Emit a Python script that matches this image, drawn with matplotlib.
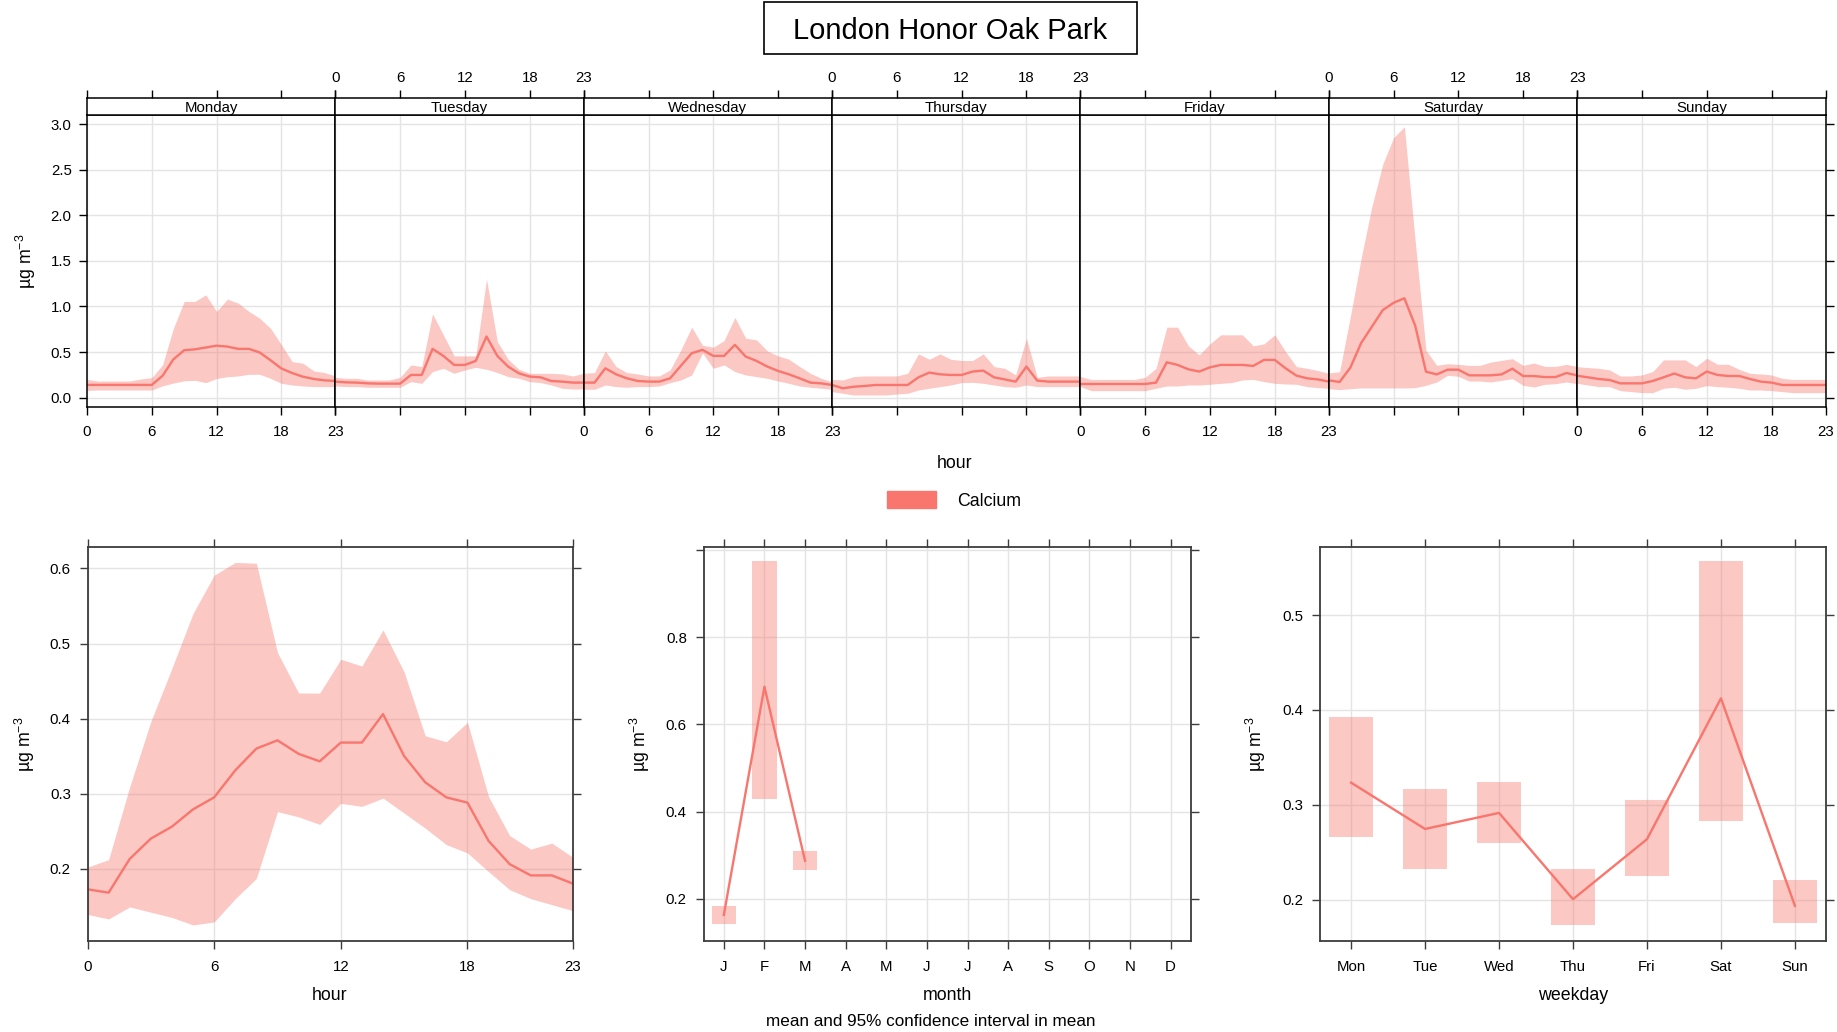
import matplotlib.pyplot as plt
import numpy as np
from matplotlib.patches import Rectangle
from matplotlib.ticker import FormatStrFormatter

plt.rcParams["font.family"] = ["Liberation Sans", "DejaVu Sans"]
plt.rcParams["mathtext.fontset"] = "custom"
plt.rcParams["mathtext.rm"] = "Liberation Sans"

# -- data: hourly Calcium by day of week (mean, 95% CI) -----------------------
days = ["Monday", "Tuesday", "Wednesday", "Thursday", "Friday", "Saturday", "Sunday"]
hour_ticks = [0, 6, 12, 18, 23]

mon_mean = [0.14, 0.14, 0.14, 0.14, 0.14, 0.14, 0.14, 0.24, 0.42, 0.52, 0.53, 0.55,
            0.57, 0.56, 0.535, 0.535, 0.495, 0.41, 0.32, 0.27, 0.23, 0.205, 0.19, 0.183]
mon_lo = [0.08, 0.084, 0.084, 0.084, 0.084, 0.084, 0.084, 0.13, 0.16, 0.185, 0.19, 0.165,
          0.21, 0.23, 0.238, 0.256, 0.256, 0.212, 0.157, 0.139, 0.128, 0.121, 0.121, 0.121]
mon_hi = [0.2, 0.183, 0.183, 0.183, 0.183, 0.205, 0.22, 0.36, 0.76, 1.055, 1.055, 1.128,
          0.945, 1.08, 1.037, 0.945, 0.87, 0.76, 0.58, 0.396, 0.377, 0.293, 0.275, 0.238]

tue_mean = [0.176, 0.168, 0.165, 0.157, 0.154, 0.154, 0.154, 0.249, 0.249, 0.535, 0.458, 0.359,
            0.359, 0.403, 0.67, 0.458, 0.341, 0.267, 0.231, 0.223, 0.183, 0.176, 0.165, 0.165]
tue_lo = [0.128, 0.121, 0.121, 0.114, 0.114, 0.114, 0.114, 0.176, 0.157, 0.286, 0.322, 0.267,
          0.304, 0.333, 0.311, 0.275, 0.231, 0.212, 0.176, 0.165, 0.139, 0.103, 0.095, 0.095]
tue_hi = [0.223, 0.212, 0.212, 0.194, 0.194, 0.194, 0.223, 0.359, 0.341, 0.919, 0.689, 0.458,
          0.458, 0.458, 1.30, 0.615, 0.421, 0.311, 0.267, 0.267, 0.267, 0.26, 0.238, 0.267]

wed_mean = [0.165, 0.165, 0.322, 0.256, 0.212, 0.183, 0.176, 0.176, 0.212, 0.35, 0.487, 0.524,
            0.458, 0.458, 0.579, 0.451, 0.403, 0.341, 0.293, 0.256, 0.212, 0.165, 0.157, 0.139]
wed_lo = [0.092, 0.092, 0.139, 0.121, 0.114, 0.121, 0.121, 0.128, 0.165, 0.194, 0.249, 0.49,
          0.322, 0.359, 0.286, 0.249, 0.231, 0.212, 0.183, 0.157, 0.128, 0.114, 0.103, 0.092]
wed_hi = [0.267, 0.275, 0.513, 0.341, 0.275, 0.26, 0.238, 0.238, 0.304, 0.524, 0.773, 0.575,
          0.553, 0.626, 0.879, 0.652, 0.634, 0.513, 0.458, 0.421, 0.341, 0.267, 0.212, 0.176]

thu_mean = [0.139, 0.103, 0.12, 0.128, 0.139, 0.139, 0.139, 0.139, 0.223, 0.275, 0.256, 0.249,
            0.249, 0.286, 0.297, 0.223, 0.2, 0.176, 0.341, 0.187, 0.176, 0.176, 0.176, 0.176]
thu_lo = [0.066, 0.048, 0.029, 0.029, 0.029, 0.029, 0.04, 0.048, 0.084, 0.103, 0.121, 0.139,
          0.165, 0.168, 0.157, 0.139, 0.121, 0.114, 0.139, 0.121, 0.121, 0.121, 0.121, 0.121]
thu_hi = [0.2, 0.194, 0.231, 0.238, 0.238, 0.238, 0.238, 0.267, 0.48, 0.421, 0.48, 0.421,
          0.407, 0.407, 0.48, 0.341, 0.322, 0.249, 0.652, 0.223, 0.238, 0.238, 0.238, 0.238]

fri_mean = [0.15, 0.15, 0.15, 0.15, 0.15, 0.15, 0.15, 0.165, 0.388, 0.359, 0.311, 0.286,
            0.333, 0.359, 0.359, 0.359, 0.348, 0.414, 0.414, 0.322, 0.242, 0.212, 0.2, 0.176]
fri_lo = [0.121, 0.077, 0.077, 0.077, 0.077, 0.077, 0.077, 0.103, 0.128, 0.128, 0.139, 0.139,
          0.147, 0.157, 0.165, 0.194, 0.2, 0.176, 0.157, 0.15, 0.147, 0.121, 0.11, 0.103]
fri_hi = [0.231, 0.2, 0.2, 0.2, 0.2, 0.2, 0.223, 0.322, 0.773, 0.773, 0.568, 0.469,
          0.59, 0.689, 0.689, 0.689, 0.568, 0.59, 0.689, 0.505, 0.341, 0.322, 0.297, 0.267]

sat_mean = [0.19, 0.172, 0.33, 0.6, 0.78, 0.96, 1.04, 1.09, 0.79, 0.285, 0.255, 0.307,
            0.307, 0.245, 0.245, 0.245, 0.255, 0.318, 0.237, 0.237, 0.226, 0.226, 0.27, 0.245]
sat_lo = [0.099, 0.088, 0.099, 0.106, 0.106, 0.106, 0.106, 0.106, 0.11, 0.135, 0.172, 0.245,
          0.234, 0.182, 0.182, 0.172, 0.19, 0.208, 0.135, 0.117, 0.146, 0.153, 0.172, 0.153]
sat_hi = [0.27, 0.285, 0.89, 1.53, 2.1, 2.56, 2.85, 2.97, 1.72, 0.52, 0.354, 0.372,
          0.365, 0.354, 0.354, 0.39, 0.409, 0.427, 0.354, 0.38, 0.343, 0.343, 0.365, 0.343]

sun_mean = [0.24, 0.223, 0.205, 0.194, 0.157, 0.157, 0.157, 0.183, 0.223, 0.265, 0.223, 0.212,
            0.286, 0.249, 0.238, 0.238, 0.205, 0.176, 0.165, 0.139, 0.139, 0.139, 0.139, 0.139]
sun_lo = [0.157, 0.139, 0.121, 0.121, 0.077, 0.066, 0.055, 0.055, 0.103, 0.114, 0.092, 0.103,
          0.132, 0.121, 0.114, 0.103, 0.084, 0.084, 0.077, 0.066, 0.055, 0.055, 0.055, 0.055]
sun_hi = [0.34, 0.33, 0.322, 0.304, 0.238, 0.238, 0.249, 0.286, 0.414, 0.414, 0.414, 0.341,
          0.432, 0.366, 0.366, 0.311, 0.267, 0.26, 0.249, 0.212, 0.2, 0.2, 0.2, 0.2]

# -- data: diurnal cycle (all days) -------------------------------------------
hour_mean = [0.1725, 0.168, 0.213, 0.240, 0.256, 0.279, 0.295, 0.331, 0.360, 0.371, 0.353, 0.343,
             0.368, 0.368, 0.406, 0.350, 0.315, 0.295, 0.288, 0.237, 0.206, 0.191, 0.191, 0.180]
hour_lo = [0.139, 0.133, 0.149, 0.142, 0.135, 0.125, 0.129, 0.160, 0.187, 0.276, 0.269, 0.259,
           0.287, 0.283, 0.294, 0.274, 0.254, 0.232, 0.221, 0.196, 0.172, 0.160, 0.152, 0.144]
hour_hi = [0.202, 0.212, 0.309, 0.396, 0.467, 0.540, 0.591, 0.608, 0.607, 0.488, 0.434, 0.434,
           0.479, 0.470, 0.518, 0.462, 0.377, 0.369, 0.395, 0.296, 0.244, 0.226, 0.234, 0.215]

# -- data: monthly means (only Jan-Mar available) -----------------------------
month_labels = ["J", "F", "M", "A", "M", "J", "J", "A", "S", "O", "N", "D"]
month_num = [1, 2, 3]
month_mean = [0.163, 0.686, 0.287]
month_lo = [0.142, 0.428, 0.267]
month_hi = [0.184, 0.974, 0.309]

# -- data: weekday means ------------------------------------------------------
wday_labels = ["Mon", "Tue", "Wed", "Thu", "Fri", "Sat", "Sun"]
wday_mean = [0.3235, 0.2747, 0.2916, 0.2007, 0.2639, 0.4123, 0.1937]
wday_lo = [0.2667, 0.2326, 0.2596, 0.1740, 0.2256, 0.2832, 0.1754]
wday_hi = [0.3926, 0.3168, 0.3239, 0.2326, 0.3053, 0.5572, 0.2207]

week_means = [mon_mean, tue_mean, wed_mean, thu_mean, fri_mean, sat_mean, sun_mean]
week_los = [mon_lo, tue_lo, wed_lo, thu_lo, fri_lo, sat_lo, sun_lo]
week_his = [mon_hi, tue_hi, wed_hi, thu_hi, fri_hi, sat_hi, sun_hi]

# -- styling ------------------------------------------------------------------
W, H = 1837, 1032
RED = "#F8766D"
GRID = "#E4E4E4"
FRAME = "#3C3C3C"
UNITS = "\u00b5g m$^{-3}$"
TICK_FS = 10.8
LAB_FS = 12.8


def px_box(left, top, right, bottom):
    return [left / W, 1 - bottom / H, (right - left) / W, (bottom - top) / H]


def px_text(x, y, s, **kw):
    fig.text(x / W, 1 - y / H, s, **kw)


fig = plt.figure(figsize=(W / 100, H / 100), dpi=100)

# -- top: hour x day of week --------------------------------------------------
x_left, x_right = 87.0, 1825.5
dw = (x_right - x_left) / 7
hours = np.arange(24)
for i, day in enumerate(days):
    l, r = x_left + i * dw, x_left + (i + 1) * dw
    ax = fig.add_axes(px_box(l, 115, r, 406.7))
    ax.fill_between(hours, week_los[i], week_his[i], color=RED, alpha=0.4, lw=0)
    ax.plot(hours, week_means[i], color=RED, lw=1.7)
    ax.set_xlim(0, 23)
    ax.set_ylim(-0.099, 3.099)
    ax.set_xticks(hour_ticks)
    ax.set_yticks(np.arange(0, 3.01, 0.5))
    ax.yaxis.set_major_formatter(FormatStrFormatter("%.1f"))
    ax.grid(color=GRID, lw=1)
    ax.set_axisbelow(True)
    ax.tick_params(axis="both", direction="out", length=6, width=1, labelsize=TICK_FS,
                   colors="black")
    ax.tick_params(axis="x", top=False, bottom=True, labelbottom=(i % 2 == 0), pad=7.5)
    ax.tick_params(axis="y", left=(i == 0), labelleft=(i == 0), right=(i == 6),
                   labelright=False, pad=5)
    for sp in ax.spines.values():
        sp.set_color("black")
        sp.set_linewidth(1.1)

    # strip with day name, carries the top tick marks
    st = fig.add_axes(px_box(l, 97.7, r, 115))
    st.set_xlim(0, 23)
    st.set_ylim(0, 1)
    st.set_xticks(hour_ticks)
    st.set_yticks([])
    st.tick_params(axis="x", top=True, bottom=False, labeltop=(i % 2 == 1), labelbottom=False,
                   direction="out", length=6, width=1, labelsize=TICK_FS, pad=3.5)
    st.text(11.5, 0.38, day, ha="center", va="center", fontsize=TICK_FS)
    for sp in st.spines.values():
        sp.set_color("black")
        sp.set_linewidth(1.1)

px_text(26, 261, UNITS, rotation=90, ha="center", va="center", fontsize=LAB_FS)
px_text(955, 464, "hour", ha="center", va="center", fontsize=LAB_FS)

# legend key
fig.add_artist(Rectangle((887 / W, 1 - 508 / H), 49 / W, 17 / H, color=RED,
                         transform=fig.transFigure))
px_text(957, 502, "Calcium", ha="left", va="center", fontsize=LAB_FS)

# title box
fig.add_artist(Rectangle((764 / W, 1 - 54 / H), 373 / W, 52 / H, fill=False,
                         edgecolor="black", lw=1.2, transform=fig.transFigure))
px_text(950, 31, "London Honor Oak Park", ha="center", va="center", fontsize=21)


def style_bottom(ax):
    ax.grid(color=GRID, lw=1)
    ax.set_axisbelow(True)
    ax.tick_params(axis="both", direction="out", length=6, width=1, labelsize=TICK_FS,
                   top=True, right=True, colors=FRAME, labelcolor="black", pad=6)
    ax.tick_params(axis="x", pad=8)
    for sp in ax.spines.values():
        sp.set_color(FRAME)
        sp.set_linewidth(1.3)


# -- bottom left: diurnal ------------------------------------------------------
ax1 = fig.add_axes(px_box(87.5, 546.7, 573, 940.7))
ax1.fill_between(hours, hour_lo, hour_hi, color=RED, alpha=0.4, lw=0)
ax1.plot(hours, hour_mean, color=RED, lw=1.7)
ax1.set_xlim(0, 23)
ax1.set_ylim(0.104, 0.629)
ax1.set_xticks(hour_ticks)
ax1.set_yticks([0.2, 0.3, 0.4, 0.5, 0.6])
style_bottom(ax1)
px_text(25, 744, UNITS, rotation=90, ha="center", va="center", fontsize=LAB_FS)
px_text(330, 996, "hour", ha="center", va="center", fontsize=LAB_FS)

# -- bottom middle: month ------------------------------------------------------
ax2 = fig.add_axes(px_box(703.5, 546.7, 1191, 940.7))
ax2.bar(month_num, np.subtract(month_hi, month_lo), bottom=month_lo, width=0.6,
        color=RED, alpha=0.4, lw=0)
ax2.plot(month_num, month_mean, color=RED, lw=1.7)
ax2.set_xlim(0.5, 12.5)
ax2.set_ylim(0.104, 1.007)
ax2.set_xticks(range(1, 13))
ax2.set_xticklabels(month_labels)
ax2.set_yticks([0.2, 0.4, 0.6, 0.8, 1.0])
ax2.set_yticklabels(["0.2", "0.4", "0.6", "0.8", ""])
style_bottom(ax2)
px_text(640, 744, UNITS, rotation=90, ha="center", va="center", fontsize=LAB_FS)
px_text(947, 996, "month", ha="center", va="center", fontsize=LAB_FS)
px_text(931, 1021, "mean and 95% confidence interval in mean", ha="center", va="center",
        fontsize=12.3)

# -- bottom right: weekday -----------------------------------------------------
ax3 = fig.add_axes(px_box(1320, 546.7, 1826, 940.7))
wpos = np.arange(1, 8)
ax3.bar(wpos, np.subtract(wday_hi, wday_lo), bottom=wday_lo, width=0.6,
        color=RED, alpha=0.4, lw=0)
ax3.plot(wpos, wday_mean, color=RED, lw=1.7)
ax3.set_xlim(0.58, 7.42)
ax3.set_ylim(0.157, 0.572)
ax3.set_xticks(wpos)
ax3.set_xticklabels(wday_labels)
ax3.set_yticks([0.2, 0.3, 0.4, 0.5])
style_bottom(ax3)
px_text(1256, 744, UNITS, rotation=90, ha="center", va="center", fontsize=LAB_FS)
px_text(1573, 996, "weekday", ha="center", va="center", fontsize=LAB_FS)

fig.savefig("out.png", dpi=100)
